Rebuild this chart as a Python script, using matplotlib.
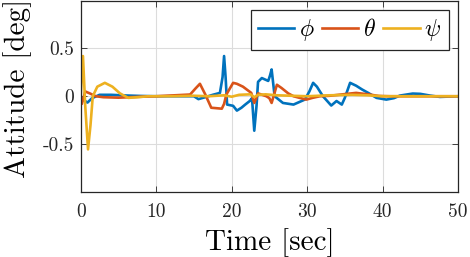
import matplotlib
matplotlib.use("Agg")
import matplotlib.pyplot as plt

plt.rcParams.update(
    {
        "font.family": "serif",
        "font.serif": ["cmr10"],
        "mathtext.fontset": "cm",
        "axes.unicode_minus": False,
        "axes.formatter.use_mathtext": False,
    }
)

COLORS = {"phi": "#0072BD", "theta": "#D95319", "psi": "#EDB120"}

# (time in sec, attitude in deg)
t_phi = [0, 0.4, 0.9, 1.5, 2.5, 4, 6, 8, 10, 12, 15, 15.6, 16.5, 17.5, 18.45, 18.8, 19.0, 19.2,
         19.4, 20.2, 20.7, 21.3, 21.8, 22.4, 22.7, 23.0, 23.3, 23.5, 24.0, 24.85, 25.1, 25.3, 25.5,
         25.7, 26.8, 28.2, 29.7, 30.3, 30.8, 31.3, 32.1, 33.2, 33.9, 34.6, 35.0, 35.7, 36.5, 37.3,
         38.1, 39.2, 40.5, 41.5, 42.3, 44.0, 45.0, 46.3, 47.6, 50]
phi = [0, -0.04, -0.066, -0.02, 0.015, 0.015, 0.008, 0.003, 0, 0, 0, -0.03, -0.01, 0.015, 0.035,
       0.2, 0.42, 0.2, -0.087, -0.1, -0.15, -0.12, -0.087, -0.05, -0.02, -0.36, -0.1, 0.15, 0.19,
       0.16, 0.22, 0.28, 0.14, 0, -0.07, -0.087, -0.035, 0.05, 0.14, 0.1, 0, -0.097, -0.05, -0.087,
       -0.017, 0.14, 0.11, 0.07, 0.035, -0.017, -0.035, -0.02, 0.007, 0.028, 0.025, 0.007, -0.007, 0]

t_theta = [0, 0.15, 0.6, 1.2, 2, 3, 5, 8, 10, 14.5, 15.2, 15.8, 16.5, 17.3, 18.7, 19.0, 19.3, 20.2,
           20.7, 21.5, 22.6, 23.0, 23.5, 24.6, 25.0, 25.3, 26.0, 26.6, 27.5, 28.2, 29.9, 30.7, 31.7,
           33, 35.3, 36.5, 38.1, 39.5, 41, 50]
theta = [0, -0.08, 0.05, 0.03, 0.0, -0.01, -0.015, -0.005, 0, 0.018, 0.08, 0.13, 0.02, -0.12, -0.13,
         -0.08, 0.018, 0.14, 0.13, 0.1, 0.035, -0.07, 0.03, 0.0, -0.02, -0.07, 0.12, 0.087, 0.03, 0,
         -0.035, -0.017, 0.0, 0.005, 0.025, 0.035, 0.02, 0.003, 0, 0]

t_psi = [0, 0.3, 0.6, 0.97, 1.3, 1.6, 2.2, 3.2, 4.2, 5.2, 6.3, 7.5, 9, 12, 15, 17, 19, 20, 21, 22.5,
         23.0, 23.5, 24.5, 26, 28, 30, 33, 36, 38, 40, 50]
psi = [0, 0.42, -0.1, -0.555, -0.3, 0.0, 0.1, 0.14, 0.1, 0.03, -0.017, -0.01, 0, 0, 0.005, 0.0,
       0.01, -0.005, 0.015, 0.02, -0.01, 0.015, 0.02, 0.01, 0.005, 0.0, 0.01, 0.015, 0.01, 0, 0]

x_ticks = [0, 10, 20, 30, 40, 50]
y_ticks = [-0.5, 0, 0.5]
y_tick_labels = ["-0.5", "0", "0.5"]

fig = plt.figure(figsize=(4.7, 2.57), dpi=100)
ax = fig.add_axes([0.1717, 0.253, 0.8028, 0.745])

ax.plot(t_phi, phi, color=COLORS["phi"], linewidth=1.9, label=r"$\phi$")
ax.plot(t_theta, theta, color=COLORS["theta"], linewidth=1.9, label=r"$\theta$")
ax.plot(t_psi, psi, color=COLORS["psi"], linewidth=1.9, label=r"$\psi$")

ax.set_xlim(0, 50)
ax.set_ylim(-1, 1)
ax.set_xticks(x_ticks)
ax.set_yticks(y_ticks)
ax.set_yticklabels(y_tick_labels)
ax.tick_params(direction="in", length=4, width=0.6, labelsize=14, top=True, right=True,
               colors="#262626", labelcolor="#262626")
ax.tick_params(axis="x", pad=8)
ax.tick_params(axis="y", pad=5)
ax.grid(True, color="#dcdcdc", linewidth=0.8)
for s in ax.spines.values():
    s.set_linewidth(0.9)
    s.set_color("#262626")

ax.set_xlabel("Time [sec]", fontsize=21, labelpad=5)
ax.set_ylabel("Attitude [deg]", fontsize=21)
ax.yaxis.set_label_coords(-0.128, 0.54)

leg = ax.legend(loc="upper right", ncol=3, fontsize=17, frameon=True, fancybox=False,
                edgecolor="#262626", framealpha=1, handlelength=1.55, columnspacing=0.3,
                handletextpad=0.2, borderaxespad=0.4, borderpad=0.3)
leg.get_frame().set_linewidth(0.9)

fig.savefig("out.png", dpi=100)
